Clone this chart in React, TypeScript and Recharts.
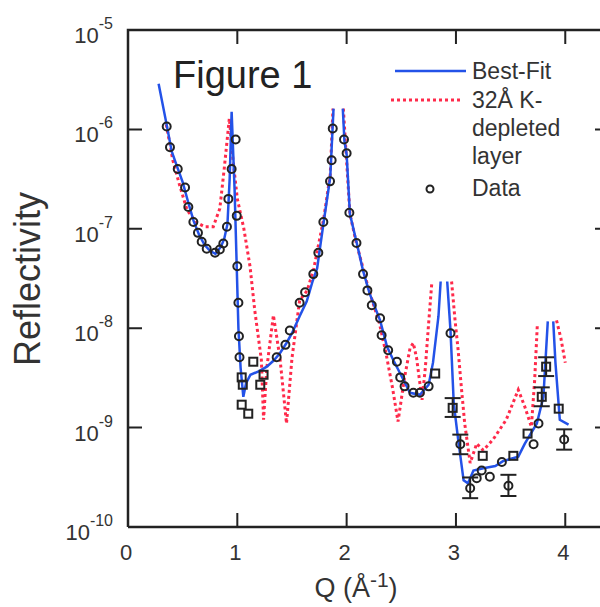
import React from "react";
import { ComposedChart, Line, Scatter, XAxis, YAxis, ErrorBar } from "recharts";

const FONT = "'Liberation Sans', Arial, sans-serif";
const INK = "#222222";
const TEXT = "#333333";
const BLUE = "#2352e8";
const RED = "#ff2a4a";

const Q_MIN = 0;
const Q_MAX = 4.4;
const R_MIN = 1e-10;
const R_MAX = 1e-5;

const qTicks = [0, 1, 2, 3, 4];
const rTicks = [1e-10, 1e-9, 1e-8, 1e-7, 1e-6, 1e-5];
const rTickExp = ["-10", "-9", "-8", "-7", "-6", "-5"];
const innerQTicks = [1, 2, 3, 4];
const innerRTicks = [1e-9, 1e-8, 1e-7, 1e-6];

// [Q, R] ; null R = gap where the curve leaves the drawn range
const bestFit: [number, number | null][] = [
  [0.28, 2.88e-6], [0.35, 1.17e-6], [0.4, 6.0e-7], [0.45, 4.2e-7], [0.5, 2.95e-7],
  [0.55, 1.86e-7], [0.6, 1.2e-7], [0.65, 8.7e-8], [0.7, 6.9e-8], [0.75, 6.0e-8],
  [0.8, 5.6e-8], [0.85, 6.6e-8], [0.88, 7.9e-8], [0.91, 1.12e-7], [0.93, 3.2e-7],
  [0.948, 1.5e-6], [0.975, 2.5e-7], [0.995, 4.0e-8], [1.01, 1.0e-8], [1.03, 4.0e-9],
  [1.055, 2.04e-9], [1.08, 2.8e-9], [1.12, 3.4e-9], [1.2, 3.7e-9], [1.27, 4.1e-9],
  [1.33, 4.7e-9], [1.39, 5.6e-9], [1.45, 7.1e-9], [1.5, 8.9e-9], [1.57, 1.32e-8],
  [1.635, 1.86e-8], [1.69, 3.0e-8], [1.73, 4.0e-8], [1.79, 1.17e-7], [1.85, 3.3e-7],
  [1.88, 1.62e-6], [1.92, null], [1.965, 1.62e-6], [1.98, 7.6e-7], [2.0, 5.6e-7],
  [2.03, 1.41e-7], [2.09, 7.4e-8], [2.15, 3.8e-8], [2.21, 2.24e-8], [2.306, 1.2e-8],
  [2.37, 6.5e-9], [2.43, 4.7e-9], [2.49, 3.5e-9], [2.58, 2.24e-9], [2.67, 2.14e-9],
  [2.75, 2.7e-9], [2.79, 4.5e-9], [2.84, 1.32e-8], [2.86, 2.95e-8], [2.89, null],
  [2.92, 2.95e-8], [2.95, 9.5e-9], [2.98, 1.74e-9], [3.02, 7.6e-10], [3.07, 2.95e-10],
  [3.11, 2.75e-10], [3.16, 3.7e-10], [3.25, 3.9e-10], [3.36, 4.1e-10], [3.43, 4.6e-10],
  [3.57, 5.1e-10], [3.63, 6.9e-10], [3.74, 1.1e-9], [3.8, 2.04e-9], [3.84, 1.17e-8],
  [3.865, null], [3.89, 1.17e-8], [3.91, 4.5e-9], [3.95, 1.2e-9], [4.03, 1.07e-9],
];

const depleted: [number, number | null][] = [
  [0.35, 1.12e-6], [0.41, 4.9e-7], [0.47, 2.8e-7], [0.54, 1.55e-7], [0.62, 1.17e-7],
  [0.7, 1.05e-7], [0.78, 1.05e-7], [0.84, 1.6e-7], [0.88, 4.0e-7], [0.927, 1.29e-6],
  [0.96, 5.0e-7], [1.0, 2.0e-7], [1.06, 1.0e-7], [1.116, 4.2e-8], [1.16, 1.5e-8],
  [1.22, 4.8e-9], [1.24, 1.2e-9], [1.27, 4.0e-9], [1.33, 1.35e-8], [1.39, 5.0e-9],
  [1.45, 1.1e-9], [1.5, 5.0e-9], [1.57, 1.9e-8], [1.64, 2.4e-8], [1.7, 4.0e-8],
  [1.79, 1.26e-7], [1.85, 3.5e-7], [1.875, 1.62e-6], [1.92, null], [1.97, 1.62e-6],
  [1.99, 7.1e-7], [2.03, 1.41e-7], [2.09, 7.1e-8], [2.2, 2.5e-8], [2.3, 1.12e-8],
  [2.36, 5.6e-9], [2.42, 2.5e-9], [2.47, 1.15e-9], [2.53, 3.2e-9], [2.58, 6.3e-9],
  [2.61, 7.1e-9], [2.64, 5.0e-9], [2.69, 1.9e-9], [2.72, 4.0e-9], [2.75, 1.12e-8],
  [2.78, 2.95e-8], [2.87, null], [2.96, 2.95e-8], [2.99, 1.26e-8], [3.02, 6.0e-9],
  [3.05, 2.5e-9], [3.08, 1.1e-9], [3.13, 4.4e-10], [3.19, 6.9e-10], [3.25, 5.9e-10],
  [3.34, 7.6e-10], [3.46, 1.2e-9], [3.57, 2.4e-9], [3.63, 1.62e-9], [3.69, 1.02e-9],
  [3.72, 3.0e-9], [3.745, 1.12e-8], [3.83, null], [3.92, 1.2e-8], [3.96, 7.9e-9],
  [4.0, 4.5e-9],
];

const dataRings: [number, number][] = [
  [0.354, 1.07e-6], [0.384, 6.6e-7], [0.455, 4.0e-7], [0.522, 2.6e-7], [0.552, 1.66e-7],
  [0.598, 1.17e-7], [0.64, 9.1e-8], [0.674, 7.4e-8], [0.72, 6.3e-8], [0.796, 5.75e-8],
  [0.84, 6.2e-8], [0.872, 7.1e-8], [0.905, 1.05e-7], [0.918, 2.0e-7], [0.948, 4.0e-7],
  [0.985, 7.9e-7], [0.995, 1.35e-7], [1.0, 4.2e-8], [1.01, 1.8e-8], [1.015, 8.3e-9],
  [1.02, 5.1e-9], [1.36, 5.1e-9], [1.44, 6.8e-9], [1.48, 9.5e-9], [1.57, 1.8e-8],
  [1.62, 2.3e-8], [1.695, 3.5e-8], [1.741, 5.75e-8], [1.787, 1.17e-7], [1.848, 3.0e-7],
  [1.863, 4.9e-7], [1.873, 1.02e-6], [1.976, 7.9e-7], [2.0, 5.75e-7], [2.025, 1.45e-7],
  [2.09, 7.2e-8], [2.15, 3.5e-8], [2.19, 2.4e-8], [2.23, 1.7e-8], [2.306, 1.26e-8],
  [2.32, 8.5e-9], [2.38, 6.0e-9], [2.46, 4.6e-9], [2.49, 3.2e-9], [2.53, 2.6e-9],
  [2.61, 2.24e-9], [2.67, 2.24e-9], [2.75, 2.6e-9], [2.95, 8.9e-9], [3.19, 3.1e-10],
  [3.235, 3.7e-10], [3.31, 3.2e-10], [3.42, 4.5e-10], [3.71, 6.8e-10], [3.755, 1.1e-9],
];

// [Q, R, lower error, upper error]
const dataRingsErr: [number, number, number, number][] = [
  [3.04, 6.8e-10, 1.4e-10, 1.7e-10], [3.13, 2.45e-10, 0.5e-10, 0.7e-10],
  [3.48, 2.6e-10, 0.55e-10, 0.75e-10], [3.99, 7.6e-10, 1.6e-10, 2.0e-10],
];

const dataSquares: [number, number][] = [
  [1.04, 3.2e-9], [1.05, 2.7e-9], [1.04, 1.7e-9], [1.1, 1.38e-9], [1.146, 4.6e-9],
  [1.21, 2.7e-9], [1.24, 3.4e-9], [2.81, 3.5e-9], [3.245, 5.2e-10], [3.525, 5.2e-10],
  [3.655, 8.7e-10], [3.94, 1.55e-9],
];

const dataSquaresErr: [number, number, number, number][] = [
  [2.97, 1.58e-9, 0.3e-9, 0.4e-9], [3.785, 2.04e-9, 0.4e-9, 0.5e-9],
  [3.825, 4.1e-9, 0.8e-9, 1.0e-9],
];

const toRows = (pts: [number, number | null][]) => pts.map(([q, r]) => ({ q, r }));
const toErrRows = (pts: [number, number, number, number][]) =>
  pts.map(([q, r, lo, hi]) => ({ q, r, err: [lo, hi] }));

// frame box and inward tick marks, in data units so they go through the scales
// (a tick is about 14px: 0.128 in Q, a factor 1.38 in R)
const TICK_Q = 0.128;
const TICK_R = 1.38;
const GAP_ROW = { q: Q_MAX, r: null };

const frameRows = [
  { q: Q_MIN, r: R_MIN }, { q: Q_MIN, r: R_MAX }, { q: Q_MAX, r: R_MAX },
  { q: Q_MAX, r: R_MIN }, { q: Q_MIN, r: R_MIN },
];

const tickRows = [
  ...innerQTicks.flatMap((q) => [{ q, r: R_MIN }, { q, r: R_MIN * TICK_R }, GAP_ROW]),
  ...innerQTicks.flatMap((q) => [{ q, r: R_MAX }, { q, r: R_MAX / TICK_R }, GAP_ROW]),
  ...innerRTicks.flatMap((r) => [{ q: Q_MIN, r }, { q: Q_MIN + TICK_Q, r }, GAP_ROW]),
  ...innerRTicks.flatMap((r) => [{ q: Q_MAX, r }, { q: Q_MAX - TICK_Q, r }, GAP_ROW]),
];

const ring = (p: any) => (
  <circle cx={p.cx} cy={p.cy} r={4} fill="none" stroke={INK} strokeWidth={2} />
);
const square = (p: any) => (
  <rect x={p.cx - 4} y={p.cy - 4} width={8} height={8} fill="none" stroke={INK} strokeWidth={2} />
);

const BottomTick = (props: any) => (
  <text x={props.x - 2} y={props.y + 33} textAnchor="middle" fontSize={22} fill={TEXT} fontFamily={FONT}>
    {props.payload.value}
  </text>
);

const LeftTick = (props: any) => {
  const { x, y, payload } = props;
  const exp = rTickExp[rTicks.indexOf(payload.value)];
  return (
    <text x={x - 15} y={y + 13} textAnchor="end" fontSize={22} fill={TEXT} fontFamily={FONT}>
      10
      <tspan dy={-14} fontSize={16}>{exp}</tspan>
    </text>
  );
};

const Overlay = () => (
  <svg
    width={600}
    height={607}
    style={{ position: "absolute", left: 0, top: 0, pointerEvents: "none" }}
    fontFamily={FONT}
  >
    <text x={173} y={88} fontSize={38} fill={INK}>Figure 1</text>
    <line x1={395} x2={466} y1={71} y2={71} stroke={BLUE} strokeWidth={2.5} />
    <text x={472} y={79} fontSize={23} fill={TEXT}>Best-Fit</text>
    <line x1={391} x2={462} y1={100} y2={100} stroke={RED} strokeWidth={3} strokeDasharray="3 3" />
    <text x={472} y={108} fontSize={23} fill={TEXT}>32Å K-</text>
    <text x={472} y={136} fontSize={23} fill={TEXT}>depleted</text>
    <text x={472} y={164} fontSize={23} fill={TEXT}>layer</text>
    <circle cx={430} cy={189} r={3.5} fill="none" stroke={INK} strokeWidth={2} />
    <text x={472} y={196} fontSize={23} fill={TEXT}>Data</text>
    <text x={40} y={279} fontSize={36} fill={TEXT} textAnchor="middle" transform="rotate(-90 40 279)">
      Reflectivity
    </text>
    <text x={356} y={597} fontSize={27} fill={TEXT} textAnchor="middle">
      Q (Å<tspan dy={-10} fontSize={21}>-1</tspan><tspan dy={10}>)</tspan>
    </text>
  </svg>
);

export default function App() {
  return (
    <div style={{ position: "fixed", left: 0, top: 0, width: 600, height: 607, overflow: "hidden", background: "#fff" }}>
      <ComposedChart width={620} height={607} margin={{ top: 30, right: 11, bottom: 0, left: 0 }}>
        <XAxis
          dataKey="q"
          type="number"
          domain={[Q_MIN, Q_MAX]}
          ticks={qTicks}
          height={80}
          tickSize={0}
          tickMargin={0}
          tickLine={false}
          stroke={INK}
          strokeWidth={2}
          tick={BottomTick}
        />
        <YAxis
          type="number"
          scale="log"
          domain={[R_MIN, R_MAX]}
          ticks={rTicks}
          width={128}
          tickSize={0}
          tickMargin={0}
          tickLine={false}
          stroke={INK}
          strokeWidth={2}
          tick={LeftTick}
        />
        <Line
          data={frameRows}
          dataKey="r"
          stroke={INK}
          strokeWidth={2.5}
          dot={false}
          legendType="none"
          isAnimationActive={false}
        />
        <Line
          data={tickRows}
          dataKey="r"
          stroke={INK}
          strokeWidth={2}
          dot={false}
          legendType="none"
          isAnimationActive={false}
        />
        <Line
          data={toRows(depleted)}
          dataKey="r"
          stroke={RED}
          strokeWidth={3}
          strokeDasharray="3 3"
          dot={false}
          isAnimationActive={false}
        />
        <Line
          data={toRows(bestFit)}
          dataKey="r"
          stroke={BLUE}
          strokeWidth={2.5}
          dot={false}
          isAnimationActive={false}
        />
        <Scatter data={toRows(dataRings)} dataKey="r" shape={ring} isAnimationActive={false} />
        <Scatter data={toRows(dataSquares)} dataKey="r" shape={square} isAnimationActive={false} />
        <Scatter data={toErrRows(dataRingsErr)} dataKey="r" shape={ring} isAnimationActive={false}>
          <ErrorBar dataKey="err" direction="y" width={8} stroke={INK} strokeWidth={2} />
        </Scatter>
        <Scatter data={toErrRows(dataSquaresErr)} dataKey="r" shape={square} isAnimationActive={false}>
          <ErrorBar dataKey="err" direction="y" width={8} stroke={INK} strokeWidth={2} />
        </Scatter>
      </ComposedChart>
      <Overlay />
    </div>
  );
}
